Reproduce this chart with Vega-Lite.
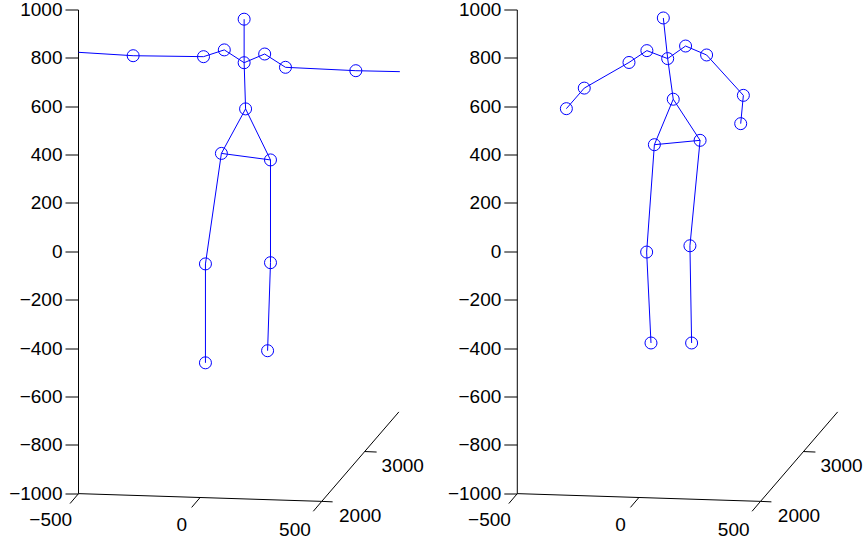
{
  "$schema": "https://vega.github.io/schema/vega-lite/v6.json",
  "width": 787.5,
  "height": 532,
  "autosize": {"type": "none"},
  "padding": {"left": 78.5, "top": 10, "right": 0, "bottom": 2},
  "background": "white",
  "config": {"view": {"stroke": null}, "font": "Liberation Sans"},
  "datasets": {
    "axes3d": [
      {"part": "z axis", "h": -500, "v": -1000, "h2": -500, "v2": 1000},
      {"part": "x axis", "h": -500, "v": -1000, "h2": 506, "v2": -1032},
      {"part": "depth axis", "h": 506, "v": -1032, "h2": 825, "v2": -662},
      {"part": "x tick -500", "h": -500, "v": -1000, "h2": -535, "v2": -1041},
      {"part": "x tick 0", "h": 3, "v": -1016, "h2": -32, "v2": -1057},
      {"part": "x tick 500", "h": 506, "v": -1032, "h2": 471, "v2": -1073},
      {"part": "depth tick 2000", "h": 506, "v": -1032, "h2": 551, "v2": -1034},
      {"part": "depth tick 3000", "h": 684, "v": -826, "h2": 733, "v2": -828}
    ],
    "labels3d": [
      {"label": "−500", "h": -615, "v": -1111},
      {"label": "0", "h": -73, "v": -1128},
      {"label": "500", "h": 395, "v": -1151},
      {"label": "2000", "h": 665, "v": -1093},
      {"label": "3000", "h": 841, "v": -886}
    ],
    "joints": [
      {"panel": "left", "joint": "head", "h": 185, "v": 962},
      {"panel": "left", "joint": "neck", "h": 185, "v": 782},
      {"panel": "left", "joint": "l shoulder", "h": 103, "v": 835},
      {"panel": "left", "joint": "l elbow", "h": 17, "v": 807},
      {"panel": "left", "joint": "l wrist", "h": -274, "v": 811},
      {"panel": "left", "joint": "r shoulder", "h": 270, "v": 818},
      {"panel": "left", "joint": "r elbow", "h": 356, "v": 763},
      {"panel": "left", "joint": "r wrist", "h": 647, "v": 749},
      {"panel": "left", "joint": "spine", "h": 191, "v": 591},
      {"panel": "left", "joint": "l hip", "h": 91, "v": 407},
      {"panel": "left", "joint": "r hip", "h": 294, "v": 380},
      {"panel": "left", "joint": "l knee", "h": 25, "v": -50},
      {"panel": "left", "joint": "r knee", "h": 294, "v": -45},
      {"panel": "left", "joint": "l ankle", "h": 25, "v": -459},
      {"panel": "left", "joint": "r ankle", "h": 282, "v": -409},
      {"panel": "right", "joint": "head", "h": 104, "v": 967},
      {"panel": "right", "joint": "neck", "h": 122, "v": 799},
      {"panel": "right", "joint": "l shoulder", "h": 36, "v": 832},
      {"panel": "right", "joint": "l elbow", "h": -38, "v": 783},
      {"panel": "right", "joint": "l wrist", "h": -223, "v": 677},
      {"panel": "right", "joint": "l hand", "h": -297, "v": 592},
      {"panel": "right", "joint": "r shoulder", "h": 196, "v": 851},
      {"panel": "right", "joint": "r elbow", "h": 283, "v": 814},
      {"panel": "right", "joint": "r wrist", "h": 435, "v": 647},
      {"panel": "right", "joint": "r hand", "h": 424, "v": 530},
      {"panel": "right", "joint": "spine", "h": 145, "v": 631},
      {"panel": "right", "joint": "l hip", "h": 67, "v": 443},
      {"panel": "right", "joint": "r hip", "h": 256, "v": 461},
      {"panel": "right", "joint": "l knee", "h": 35, "v": -1},
      {"panel": "right", "joint": "r knee", "h": 214, "v": 25},
      {"panel": "right", "joint": "l ankle", "h": 53, "v": -377},
      {"panel": "right", "joint": "r ankle", "h": 221, "v": -377}
    ],
    "bones": [
      {"panel": "left", "h": 185, "v": 962, "h2": 185, "v2": 782},
      {"panel": "left", "h": 185, "v": 782, "h2": 103, "v2": 835},
      {"panel": "left", "h": 103, "v": 835, "h2": 17, "v2": 807},
      {"panel": "left", "h": 17, "v": 807, "h2": -274, "v2": 811},
      {"panel": "left", "h": -274, "v": 811, "h2": -500, "v2": 825},
      {"panel": "left", "h": 185, "v": 782, "h2": 270, "v2": 818},
      {"panel": "left", "h": 270, "v": 818, "h2": 356, "v2": 763},
      {"panel": "left", "h": 356, "v": 763, "h2": 647, "v2": 749},
      {"panel": "left", "h": 647, "v": 749, "h2": 829, "v2": 745},
      {"panel": "left", "h": 185, "v": 782, "h2": 191, "v2": 591},
      {"panel": "left", "h": 191, "v": 591, "h2": 91, "v2": 407},
      {"panel": "left", "h": 191, "v": 591, "h2": 294, "v2": 380},
      {"panel": "left", "h": 91, "v": 407, "h2": 294, "v2": 380},
      {"panel": "left", "h": 91, "v": 407, "h2": 25, "v2": -50},
      {"panel": "left", "h": 25, "v": -50, "h2": 25, "v2": -459},
      {"panel": "left", "h": 294, "v": 380, "h2": 294, "v2": -45},
      {"panel": "left", "h": 294, "v": -45, "h2": 282, "v2": -409},
      {"panel": "right", "h": 104, "v": 967, "h2": 122, "v2": 799},
      {"panel": "right", "h": 122, "v": 799, "h2": 36, "v2": 832},
      {"panel": "right", "h": 36, "v": 832, "h2": -38, "v2": 783},
      {"panel": "right", "h": -38, "v": 783, "h2": -223, "v2": 677},
      {"panel": "right", "h": -223, "v": 677, "h2": -297, "v2": 592},
      {"panel": "right", "h": 122, "v": 799, "h2": 196, "v2": 851},
      {"panel": "right", "h": 196, "v": 851, "h2": 283, "v2": 814},
      {"panel": "right", "h": 283, "v": 814, "h2": 435, "v2": 647},
      {"panel": "right", "h": 435, "v": 647, "h2": 424, "v2": 530},
      {"panel": "right", "h": 122, "v": 799, "h2": 145, "v2": 631},
      {"panel": "right", "h": 145, "v": 631, "h2": 67, "v2": 443},
      {"panel": "right", "h": 145, "v": 631, "h2": 256, "v2": 461},
      {"panel": "right", "h": 67, "v": 443, "h2": 256, "v2": 461},
      {"panel": "right", "h": 67, "v": 443, "h2": 35, "v2": -1},
      {"panel": "right", "h": 35, "v": -1, "h2": 53, "v2": -377},
      {"panel": "right", "h": 256, "v": 461, "h2": 214, "v2": 25},
      {"panel": "right", "h": 214, "v": 25, "h2": 221, "v2": -377}
    ]
  },
  "layer": [
    {
      "encoding": {
        "x": {"field": "h", "type": "quantitative", "scale": {"domain": [-500, 2756.9], "nice": false, "zero": false}, "axis": null},
        "y": {
          "field": "v", "type": "quantitative",
          "scale": {"domain": [-1200, 1000], "nice": false, "zero": false},
          "axis": {
            "values": [-1000, -800, -600, -400, -200, 0, 200, 400, 600, 800, 1000],
            "format": "d", "orient": "left", "domain": false, "grid": false,
            "tickSize": 13, "tickColor": "black", "tickWidth": 1,
            "labelFont": "Liberation Sans", "labelFontSize": 19, "labelColor": "black",
            "labelPadding": 3, "title": null, "translate": 0, "labelOverlap": false
          }
        }
      },
      "layer": [
        {
          "data": {"name": "axes3d"},
          "mark": {"type": "rule", "color": "black", "strokeWidth": 1},
          "encoding": {"x2": {"field": "h2"}, "y2": {"field": "v2"}}
        },
        {
          "data": {"name": "labels3d"},
          "mark": {"type": "text", "fontSize": 19, "font": "Liberation Sans", "align": "center", "baseline": "middle", "color": "black"},
          "encoding": {"text": {"field": "label"}}
        },
        {
          "data": {"name": "bones"},
          "transform": [{"filter": "datum.panel === 'left'"}],
          "mark": {"type": "rule", "color": "#0000ff", "strokeWidth": 1},
          "encoding": {"x2": {"field": "h2"}, "y2": {"field": "v2"}}
        },
        {
          "data": {"name": "joints"},
          "transform": [{"filter": "datum.panel === 'left'"}],
          "mark": {"type": "point", "shape": "circle", "filled": false, "size": 144, "strokeWidth": 1, "color": "#0000ff", "opacity": 1}
        }
      ]
    },
    {
      "encoding": {
        "x": {"field": "h", "type": "quantitative", "scale": {"domain": [-2314.7, 942.2], "nice": false, "zero": false}, "axis": null},
        "y": {
          "field": "v", "type": "quantitative",
          "scale": {"domain": [-1200, 1000], "nice": false, "zero": false},
          "axis": {
            "values": [-1000, -800, -600, -400, -200, 0, 200, 400, 600, 800, 1000],
            "format": "d", "orient": "left", "offset": -438.8, "domain": false, "grid": false,
            "tickSize": 13, "tickColor": "black", "tickWidth": 1,
            "labelFont": "Liberation Sans", "labelFontSize": 19, "labelColor": "black",
            "labelPadding": 3, "title": null, "translate": 0, "labelOverlap": false
          }
        }
      },
      "layer": [
        {
          "data": {"name": "axes3d"},
          "mark": {"type": "rule", "color": "black", "strokeWidth": 1},
          "encoding": {"x2": {"field": "h2"}, "y2": {"field": "v2"}}
        },
        {
          "data": {"name": "labels3d"},
          "mark": {"type": "text", "fontSize": 19, "font": "Liberation Sans", "align": "center", "baseline": "middle", "color": "black"},
          "encoding": {"text": {"field": "label"}}
        },
        {
          "data": {"name": "bones"},
          "transform": [{"filter": "datum.panel === 'right'"}],
          "mark": {"type": "rule", "color": "#0000ff", "strokeWidth": 1},
          "encoding": {"x2": {"field": "h2"}, "y2": {"field": "v2"}}
        },
        {
          "data": {"name": "joints"},
          "transform": [{"filter": "datum.panel === 'right'"}],
          "mark": {"type": "point", "shape": "circle", "filled": false, "size": 144, "strokeWidth": 1, "color": "#0000ff", "opacity": 1}
        }
      ]
    }
  ],
  "resolve": {"scale": {"x": "independent"}, "axis": {"y": "independent"}}
}
